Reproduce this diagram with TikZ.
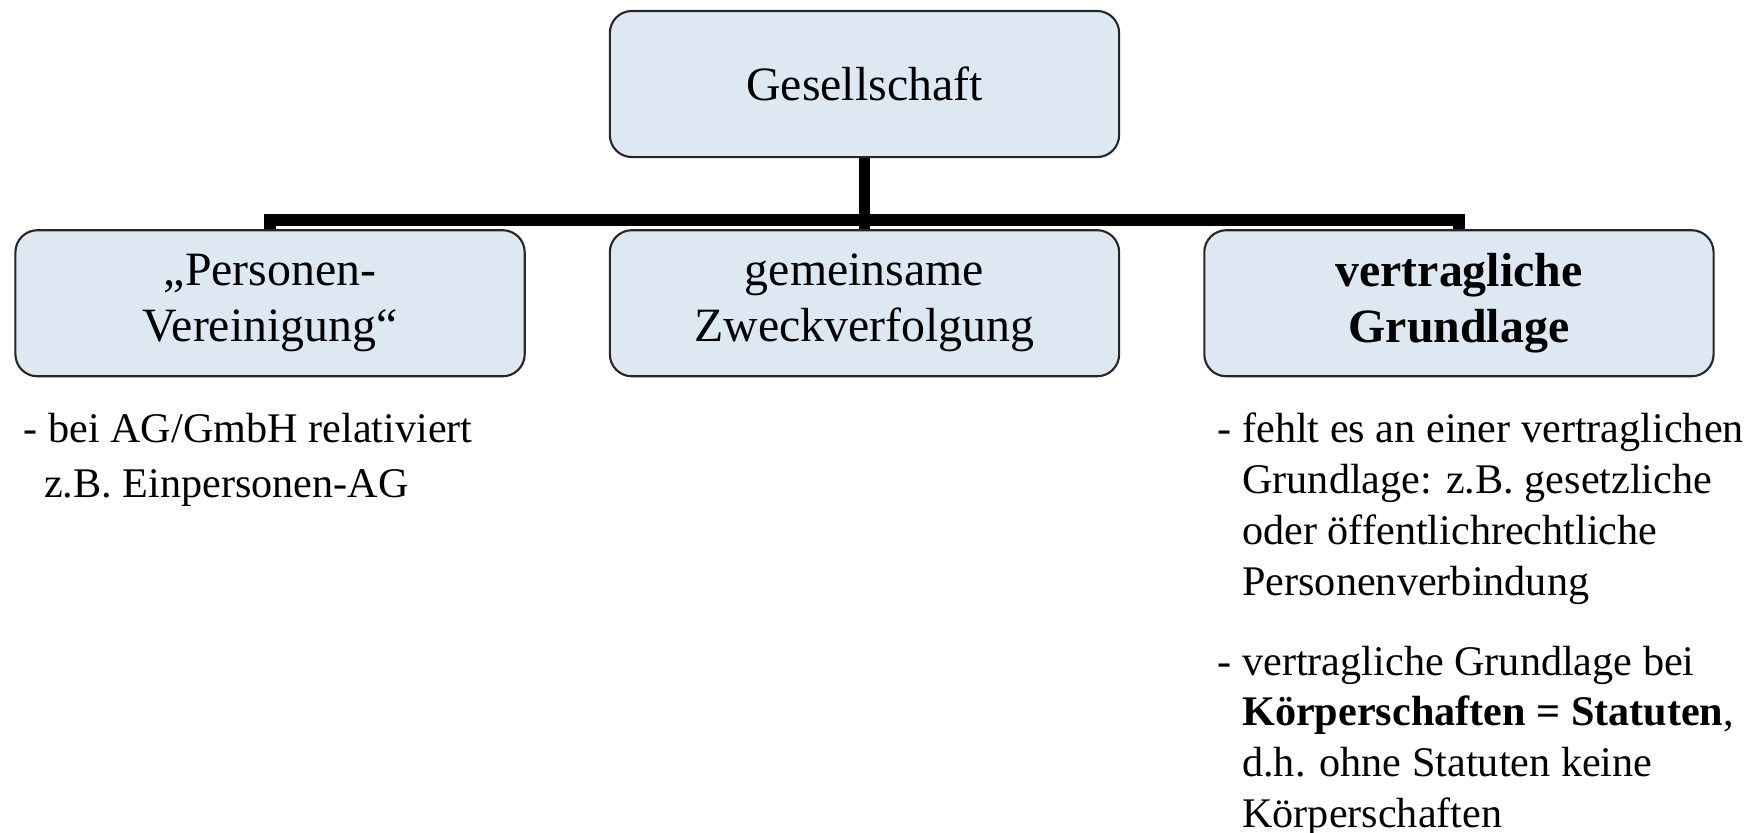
\documentclass[tikz,border=0pt]{standalone}
\usepackage{fontspec}
\setmainfont{Liberation Serif}
\usetikzlibrary{positioning}
\definecolor{boxblue}{HTML}{DEE8F3}
\tikzset{
  box/.style={draw=black!85, line width=0.6pt, fill=boxblue, rounded corners=0.22cm,
    minimum width=5.09cm, minimum height=1.46cm, inner sep=0pt, align=center,
    font=\fontsize{13.6}{15.9}\selectfont},
  trunk/.style={line width=3.3pt},
  note/.style={anchor=north west, align=left, inner sep=0pt}
}
\begin{document}
\begin{tikzpicture}[x=0.01cm, y=-0.01cm, line join=miter]
	\useasboundingbox (0,0) rectangle (1762,832);
	\node[box] (gesell) at (864.5,84) {Gesellschaft};
	\node[box, below=0.71cm of gesell] (zweck) {gemeinsame\\Zweckverfolgung};
	\node[box, left=0.83cm of zweck] (pers) {„Personen-\\Vereinigung“};
	\node[box, right=0.83cm of zweck] (grund) {\bfseries vertragliche\\\bfseries Grundlage};
	\coordinate (hub) at (864.5,220);
	\draw[trunk] (gesell.south) -- (hub);
	\foreach \c in {pers,zweck,grund} \draw[trunk] (hub) -| (\c.north);
	\node[note, font=\fontsize{12}{15.8}\selectfont] (persnote) at (23,412)
		{- bei AG/GmbH relativiert\\\hspace*{5.8pt}z.B. Einpersonen-AG};
	\node[note, font=\fontsize{12}{14.5}\selectfont] (fehlt) at (1217,412)
		{- fehlt es an einer vertraglichen\\\hspace*{7pt}Grundlage: z.B. gesetzliche\\\hspace*{7pt}oder öffentlichrechtliche\\\hspace*{7pt}Personenverbindung};
	\node[note, font=\fontsize{12}{14.5}\selectfont] (statut) at (1217,645)
		{- vertragliche Grundlage bei\\\hspace*{7pt}\textbf{Körperschaften = Statuten},\\\hspace*{7pt}d.h. ohne Statuten keine\\\hspace*{7pt}Körperschaften};
\end{tikzpicture}
\end{document}
